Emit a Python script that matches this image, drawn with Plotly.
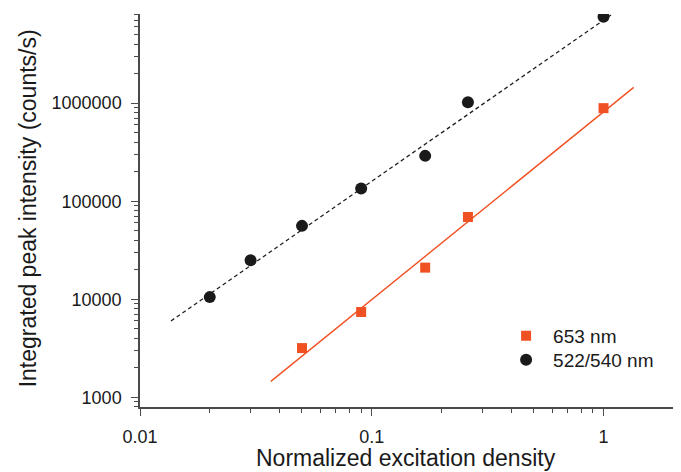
import plotly.graph_objects as go

# Data
x_green = [0.02, 0.03, 0.05, 0.09, 0.17, 0.26, 1.0]
y_green = [10500, 25000, 56000, 135000, 290000, 1020000, 7600000]

x_red = [0.05, 0.09, 0.17, 0.26, 1.0]
y_red = [3170, 7400, 21000, 69000, 890000]

# Fit lines (end points)
fit_green_x = [0.0136, 1.09]
fit_green_y = [6000, 8100000]
fit_red_x = [0.0367, 1.35]
fit_red_y = [1450, 1450000]

x_major = [0.01, 0.1, 1]
x_major_text = ["0.01", "0.1", "1"]
y_major = [1000, 10000, 100000, 1000000]
y_major_text = ["1000", "10000", "100000", "1000000"]

x_minor = [m * d for d in [0.01, 0.1, 1] for m in range(2, 10) if m * d <= 2.1]
y_minor = [m * d for d in [100, 1000, 10000, 100000, 1000000] for m in range(2, 10)
           if 790 <= m * d <= 8.1e6]

x_title = "Normalized excitation density"
y_title = "Integrated peak intensity (counts/s)"

orange = "#f05123"
black = "#1b1a1a"
axis_col = "#4a4a4a"

fig = go.Figure()
fig.add_trace(go.Scatter(x=fit_green_x, y=fit_green_y, mode="lines",
                         line=dict(color="#222222", width=1.3, dash="4px,3px"),
                         showlegend=False, hoverinfo="skip"))
fig.add_trace(go.Scatter(x=fit_red_x, y=fit_red_y, mode="lines",
                         line=dict(color=orange, width=1.4),
                         showlegend=False, hoverinfo="skip"))
fig.add_trace(go.Scatter(x=x_red, y=y_red, mode="markers", name="653 nm",
                         marker=dict(symbol="square", size=10, color=orange),
                         legend="legend"))
fig.add_trace(go.Scatter(x=x_green, y=y_green, mode="markers", name="522/540 nm",
                         marker=dict(symbol="circle", size=12, color=black),
                         legend="legend2"))

font_family = "Arial, 'Liberation Sans', Helvetica, sans-serif"

legend_common = dict(xanchor="left", yanchor="middle", itemwidth=44,
                     bgcolor="rgba(0,0,0,0)", font=dict(size=19))

fig.update_layout(
    width=673, height=464,
    margin=dict(l=132, r=1, t=6, b=65, autoexpand=False),
    plot_bgcolor="white", paper_bgcolor="white",
    font=dict(family=font_family, size=18, color="#1a1a1a"),
    legend=dict(x=0.665, y=0.181, **legend_common),
    legend2=dict(x=0.665, y=0.120, **legend_common),
    xaxis=dict(
        type="log", range=[-2, 0.33], automargin=False,
        showgrid=False, zeroline=False,
        showline=True, linecolor=axis_col, linewidth=1.5,
        ticks="outside", ticklen=7, tickwidth=1.2, tickcolor=axis_col,
        tickmode="array", tickvals=x_major, ticktext=x_major_text,
        tickfont=dict(size=18), ticklabelstandoff=6,
        minor=dict(ticks="outside", ticklen=4, tickwidth=1, tickcolor=axis_col,
                   tickmode="array", tickvals=x_minor, showgrid=False),
    ),
    yaxis=dict(
        type="log", range=[2.9, 6.91], automargin=False,
        showgrid=False, zeroline=False,
        showline=True, linecolor=axis_col, linewidth=1.5,
        ticks="outside", ticklen=7, tickwidth=1.2, tickcolor=axis_col,
        tickmode="array", tickvals=y_major, ticktext=y_major_text,
        tickfont=dict(size=18), ticklabelstandoff=6,
        minor=dict(ticks="outside", ticklen=4, tickwidth=1, tickcolor=axis_col,
                   tickmode="array", tickvals=y_minor, showgrid=False),
    ),
    annotations=[
        dict(text=x_title, xref="paper", yref="paper", x=0.4926, y=-0.1654,
             xanchor="center", yanchor="bottom", showarrow=False, borderpad=0,
             font=dict(size=23)),
        dict(text=y_title, xref="paper", yref="paper", x=-0.207, y=0.506,
             xanchor="center", yanchor="middle", showarrow=False, textangle=-90,
             font=dict(size=23)),
    ],
)

fig.write_html("out.html")
